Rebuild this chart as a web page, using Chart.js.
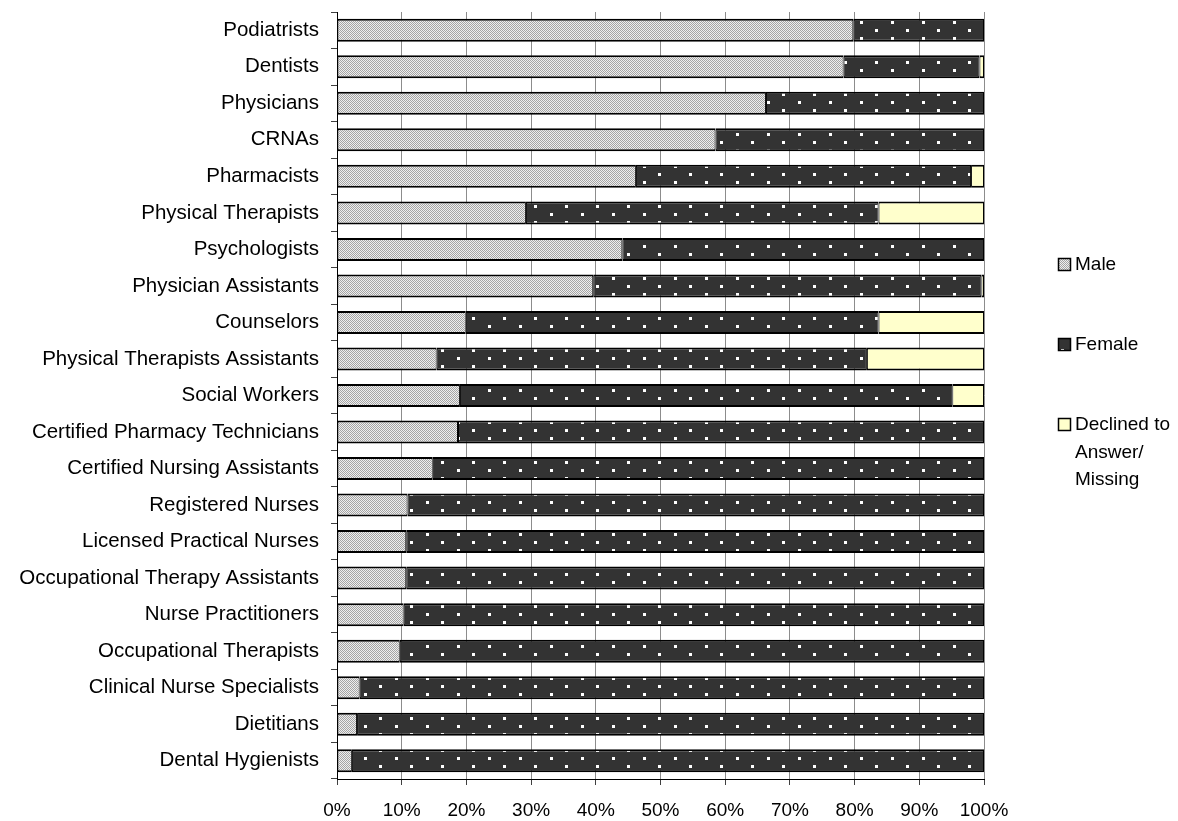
<!DOCTYPE html>
<html>
<head>
<meta charset="utf-8">
<script src="https://cdn.jsdelivr.net/npm/chart.js@4"></script>
<style>
  html, body { margin: 0; padding: 0; background: #fff; }
  #wrap { width: 1178px; height: 821px; position: relative; }
</style>
</head>
<body>
<div id="wrap"><canvas id="grafico"></canvas></div>
<script>
// professions, top to bottom
const profesiones = [
  "Podiatrists", "Dentists", "Physicians", "CRNAs", "Pharmacists",
  "Physical Therapists", "Psychologists", "Physician Assistants", "Counselors",
  "Physical Therapists Assistants", "Social Workers", "Certified Pharmacy Technicians",
  "Certified Nursing Assistants", "Registered Nurses", "Licensed Practical Nurses",
  "Occupational Therapy Assistants", "Nurse Practitioners", "Occupational Therapists",
  "Clinical Nurse Specialists", "Dietitians", "Dental Hygienists"
];

// percentages
const male     = [79.8, 78.3, 66.3, 58.5, 46.2, 29.2, 44.1, 39.6, 19.9, 15.4, 19.0, 18.7, 14.8, 10.9, 10.7, 10.7, 10.3, 9.7, 3.5, 3.1, 2.3];
const female   = [20.2, 21.0, 33.7, 41.5, 51.8, 54.5, 55.9, 60.0, 63.8, 66.5, 76.1, 81.3, 85.2, 89.1, 89.3, 89.3, 89.7, 90.3, 96.5, 96.9, 97.7];
const declined = [0, 0.7, 0, 0, 2.0, 16.3, 0, 0.4, 16.3, 18.1, 4.9, 0, 0, 0, 0, 0, 0, 0, 0, 0, 0];

const seriesNames = ["Male", "Female", ["Declined to", "Answer/", "Missing"]];
const xTicks = [0, 10, 20, 30, 40, 50, 60, 70, 80, 90, 100];

const FONT = "'Liberation Sans', Arial, sans-serif";

// fill patterns
function patronMale() {
  const c = document.createElement("canvas");
  c.width = 2; c.height = 2;
  const g = c.getContext("2d");
  g.fillStyle = "#eeeeee"; g.fillRect(0, 0, 2, 2);
  g.fillStyle = "#a4a4a4"; g.fillRect(0, 0, 1, 1); g.fillRect(1, 1, 1, 1);
  return g.createPattern(c, "repeat");
}
function patronFemale() {
  const c = document.createElement("canvas");
  c.width = 31; c.height = 16;
  const g = c.getContext("2d");
  g.fillStyle = "#333333"; g.fillRect(0, 0, 31, 16);
  g.fillStyle = "#ffffff";
  g.fillRect(7, 13, 3, 3);
  g.fillRect(23, 5, 3, 3);
  return g.createPattern(c, "repeat");
}

const pMale = patronMale();
const pFemale = patronFemale();
const colores = [pMale, pFemale, "#ffffcc"];

// legend drawn on the right side
const leyenda = {
  id: "leyenda",
  afterDraw(chart) {
    const ctx = chart.ctx;
    const x0 = chart.chartArea.right + 74;
    const ys = [265, 345, 425];
    ctx.save();
    ctx.font = "19px " + FONT;
    ctx.textBaseline = "middle";
    seriesNames.forEach((nombre, i) => {
      const y = ys[i];
      ctx.fillStyle = colores[i];
      ctx.fillRect(x0, y - 7, 13, 13);
      ctx.strokeStyle = "#000";
      ctx.lineWidth = 1.5;
      ctx.strokeRect(x0 + 0.5, y - 6.5, 12, 12);
      ctx.fillStyle = "#000";
      const lineas = Array.isArray(nombre) ? nombre : [nombre];
      lineas.forEach((t, k) => ctx.fillText(t, x0 + 17, y + k * 27.5));
    });
    ctx.restore();
  }
};

const datasets = [male, female, declined].map((vals, i) => ({
  label: Array.isArray(seriesNames[i]) ? seriesNames[i].join(" ") : seriesNames[i],
  data: vals,
  backgroundColor: colores[i],
  borderColor: "#000",
  borderWidth: { top: 2, bottom: 2, left: 1, right: 1 },
  borderSkipped: false,
  barPercentage: 0.63,
  categoryPercentage: 1.0
}));

new Chart(document.getElementById("grafico"), {
  type: "bar",
  data: { labels: profesiones, datasets },
  options: {
    indexAxis: "y",
    responsive: true,
    maintainAspectRatio: false,
    devicePixelRatio: 1,
    animation: false,
    layout: { padding: { top: 12, right: 194, left: 0, bottom: 0 } },
    plugins: {
      legend: { display: false },
      tooltip: { enabled: false }
    },
    scales: {
      x: {
        stacked: true,
        min: 0,
        max: 100,
        afterBuildTicks: (scale) => { scale.ticks = xTicks.map(v => ({ value: v })); },
        afterFit: (scale) => { scale.height = 42; },
        ticks: {
          callback: v => v + "%",
          color: "#000",
          font: { family: FONT, size: 19 },
          padding: 14,
          maxRotation: 0
        },
        grid: {
          z: -1,
          color: "#8c8c8c",
          lineWidth: 1,
          tickLength: 6,
          tickColor: "#404040"
        },
        border: { color: "#000", width: 1 }
      },
      y: {
        stacked: true,
        afterFit: (scale) => {
          scale.width = 337;
          scale.paddingTop = 0;
          scale.paddingBottom = 0;
        },
        ticks: {
          color: "#000",
          font: { family: FONT, size: 20.5 },
          padding: 12,
          autoSkip: false
        },
        grid: {
          drawOnChartArea: false,
          offset: true,
          tickLength: 6,
          tickColor: "#404040"
        },
        border: { color: "#000", width: 1 }
      }
    }
  },
  plugins: [leyenda]
});
</script>
</body>
</html>
